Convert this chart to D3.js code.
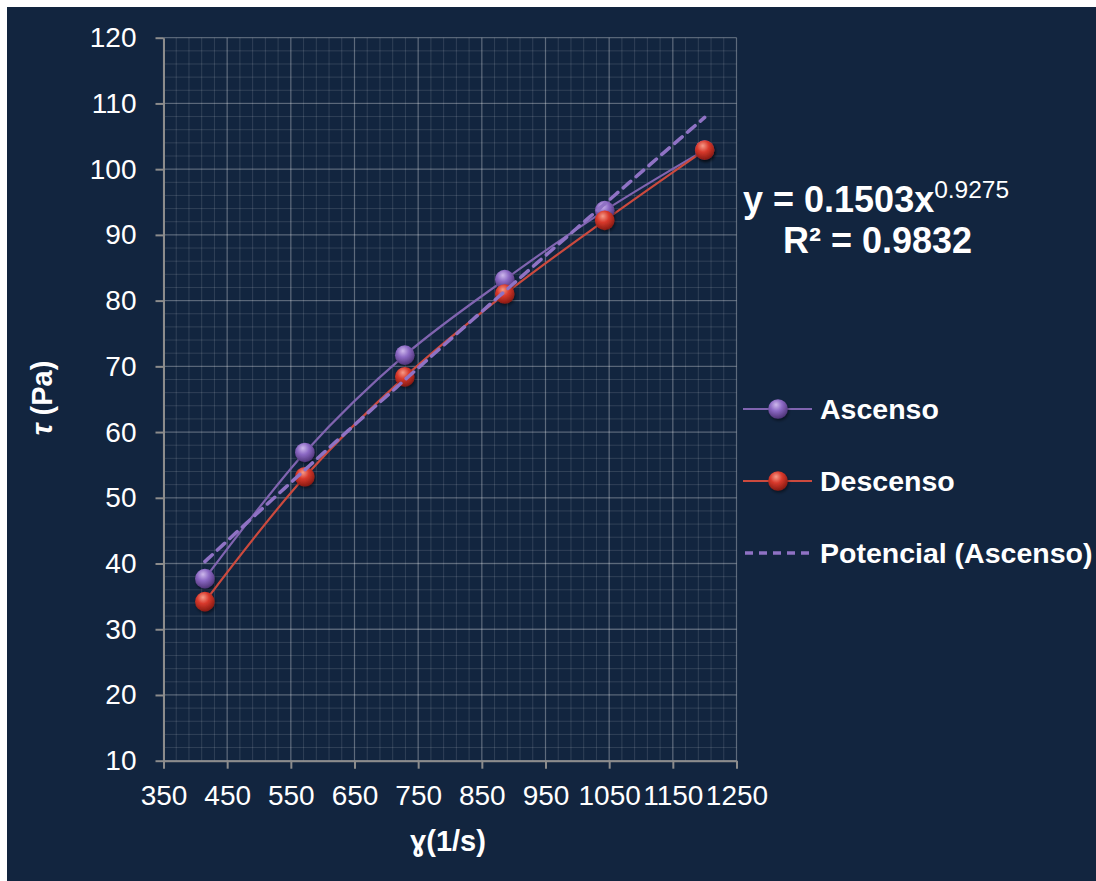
<!DOCTYPE html>
<html>
<head>
<meta charset="utf-8">
<script src="https://cdn.jsdelivr.net/npm/d3@7/dist/d3.min.js"></script>
<style>
  html, body { margin: 0; padding: 0; background: #ffffff; }
  svg { display: block; }
  text { font-family: "Liberation Sans", Arial, sans-serif; fill: #ffffff; }
</style>
</head>
<body>
<svg id="chart" width="1096" height="881"></svg>
<script>
// Shear rate (1/s) and shear stress (Pa) for the up and down ramps
const shearRate = [415, 572, 729, 886, 1043, 1200];
const ascenso   = [37.7, 56.9, 71.7, 83.2, 93.7, 102.9];
const descenso  = [34.2, 53.2, 68.4, 81.0, 92.2, 102.9];

// Power-law fit of the up ramp: y = a * x^b
const fitCoef = [0.1503, 0.9275];
const fitR2 = 0.9832;

const xTicks = [350, 450, 550, 650, 750, 850, 950, 1050, 1150, 1250];
const yTicks = [10, 20, 30, 40, 50, 60, 70, 80, 90, 100, 110, 120];

const seriesNames = ["Ascenso", "Descenso", "Potencial (Ascenso)"];

const svg = d3.select("#chart");
const W = 1096, H = 881;

// panel background
svg.append("rect").attr("x", 7).attr("y", 7).attr("width", W - 7).attr("height", H - 7)
  .attr("fill", "#12253f");

const defs = svg.append("defs");
function sphere(id, hi, mid, lo) {
  const g = defs.append("radialGradient").attr("id", id)
    .attr("cx", "42%").attr("cy", "32%").attr("r", "68%").attr("fx", "40%").attr("fy", "28%");
  g.append("stop").attr("offset", "0%").attr("stop-color", hi);
  g.append("stop").attr("offset", "45%").attr("stop-color", mid);
  g.append("stop").attr("offset", "100%").attr("stop-color", lo);
}
sphere("ballPurple", "#cdb8ec", "#8c69c4", "#4f3478");
sphere("ballRed", "#f59a88", "#d8392c", "#861a12");
const shadow = defs.append("filter").attr("id", "shade")
  .attr("x", "-50%").attr("y", "-50%").attr("width", "200%").attr("height", "200%");
shadow.append("feDropShadow").attr("dx", 1).attr("dy", 2).attr("stdDeviation", 1.5)
  .attr("flood-color", "#000").attr("flood-opacity", 0.45);

const x = d3.scaleLinear().domain([350, 1250]).range([163.5, 736.5]);
const y = d3.scaleLinear().domain([10, 120]).range([760.7, 37.7]);

// grid: minor every 20 (x) / 2 (y), major on ticks
const grid = svg.append("g");
const xMinor = d3.range(350, 1250.1, 20);
const yMinor = d3.range(10, 120.1, 2);
grid.selectAll(".vx").data(xMinor).join("line")
  .attr("x1", d => x(d)).attr("x2", d => x(d)).attr("y1", y(10)).attr("y2", y(120))
  .attr("stroke", "rgba(255,255,255,0.13)").attr("stroke-width", 1);
grid.selectAll(".hy").data(yMinor).join("line")
  .attr("y1", d => y(d)).attr("y2", d => y(d)).attr("x1", x(350)).attr("x2", x(1250))
  .attr("stroke", "rgba(255,255,255,0.13)").attr("stroke-width", 1);
grid.selectAll(".VX").data(xTicks).join("line")
  .attr("x1", d => x(d)).attr("x2", d => x(d)).attr("y1", y(10)).attr("y2", y(120))
  .attr("stroke", "rgba(255,255,255,0.22)").attr("stroke-width", 1.3);
grid.selectAll(".HY").data(yTicks).join("line")
  .attr("y1", d => y(d)).attr("y2", d => y(d)).attr("x1", x(350)).attr("x2", x(1250))
  .attr("stroke", "rgba(255,255,255,0.22)").attr("stroke-width", 1.3);

// axes
const axisColor = "#8c8c8c";
const gx = svg.append("g").attr("transform", `translate(0,${y(10)})`)
  .call(d3.axisBottom(x).tickValues(xTicks).tickFormat(d3.format("d")).tickSize(8).tickSizeOuter(0).tickPadding(16));
const gy = svg.append("g").attr("transform", `translate(${x(350)},0)`)
  .call(d3.axisLeft(y).tickValues(yTicks).tickFormat(d3.format("d")).tickSize(8).tickSizeOuter(0).tickPadding(19));
[gx, gy].forEach(g => {
  g.select(".domain").attr("stroke", axisColor).attr("stroke-width", 2);
  g.selectAll(".tick line").attr("stroke", axisColor).attr("stroke-width", 2);
  g.selectAll(".tick text").attr("fill", "#ffffff").style("font-size", "28px")
    .style("font-family", '"Liberation Sans", Arial, sans-serif');
});

// axis titles
svg.append("text").attr("x", 448).attr("y", 851).attr("text-anchor", "middle")
  .style("font-size", "29px").style("font-weight", "bold").text("ɣ(1/s)");
const yt = svg.append("text").attr("transform", "translate(52,398) rotate(-90)")
  .attr("text-anchor", "middle").style("font-size", "29px").style("font-weight", "bold");
yt.append("tspan").style("font-style", "italic").text("τ");
yt.append("tspan").text(" (Pa)");

// series
const line = d3.line().x(d => x(d[0])).y(d => y(d[1])).curve(d3.curveCatmullRom.alpha(0.5));
const purple = "#8064b0", red = "#cc4a3e";
const ptsA = shearRate.map((s, i) => [s, ascenso[i]]);
const ptsD = shearRate.map((s, i) => [s, descenso[i]]);

svg.append("path").datum(ptsA).attr("d", line).attr("fill", "none")
  .attr("stroke", purple).attr("stroke-width", 2.2);
svg.append("path").datum(ptsD).attr("d", line).attr("fill", "none")
  .attr("stroke", red).attr("stroke-width", 2.2);

svg.append("g").selectAll("circle").data(ptsA).join("circle")
  .attr("cx", d => x(d[0])).attr("cy", d => y(d[1])).attr("r", 9.8)
  .attr("fill", "url(#ballPurple)").attr("filter", "url(#shade)");
svg.append("g").selectAll("circle").data(ptsD).join("circle")
  .attr("cx", d => x(d[0])).attr("cy", d => y(d[1])).attr("r", 9.8)
  .attr("fill", "url(#ballRed)").attr("filter", "url(#shade)");

// power-law trend line over the measured range
const fitX = d3.range(shearRate[0], shearRate[shearRate.length - 1] + 0.1, 5);
const fitPts = fitX.map(s => [s, fitCoef[0] * Math.pow(s, fitCoef[1])]);
svg.append("path").datum(fitPts).attr("d", d3.line().x(d => x(d[0])).y(d => y(d[1])))
  .attr("fill", "none").attr("stroke", "#8f72c4").attr("stroke-width", 3.5)
  .attr("stroke-dasharray", "10,7").attr("stroke-linecap", "round");

// fit equation
const eq = svg.append("text").attr("x", 743).attr("y", 212)
  .style("font-size", "36px").style("font-weight", "bold");
eq.append("tspan").text(`y = ${fitCoef[0]}x`);
eq.append("tspan").attr("dy", -14).style("font-size", "24.5px").style("font-weight", "normal")
  .text(fitCoef[1]);
svg.append("text").attr("x", 783).attr("y", 253)
  .style("font-size", "36px").style("font-weight", "bold").text(`R² = ${fitR2}`);

// legend
const legY = [409, 481, 553];
const lg = svg.append("g");
lg.append("line").attr("x1", 743).attr("x2", 812).attr("y1", legY[0]).attr("y2", legY[0])
  .attr("stroke", purple).attr("stroke-width", 2.2);
lg.append("circle").attr("cx", 778).attr("cy", legY[0]).attr("r", 9.8)
  .attr("fill", "url(#ballPurple)").attr("filter", "url(#shade)");
lg.append("line").attr("x1", 743).attr("x2", 812).attr("y1", legY[1]).attr("y2", legY[1])
  .attr("stroke", red).attr("stroke-width", 2.2);
lg.append("circle").attr("cx", 778).attr("cy", legY[1]).attr("r", 9.8)
  .attr("fill", "url(#ballRed)").attr("filter", "url(#shade)");
lg.append("line").attr("x1", 745).attr("x2", 812).attr("y1", legY[2]).attr("y2", legY[2])
  .attr("stroke", "#8f72c4").attr("stroke-width", 3.5).attr("stroke-dasharray", "8,6");
lg.selectAll("text").data(seriesNames).join("text")
  .attr("x", 820).attr("y", (d, i) => legY[i] + 10)
  .style("font-size", "28.5px").style("font-weight", "bold").text(d => d);
</script>
</body>
</html>
